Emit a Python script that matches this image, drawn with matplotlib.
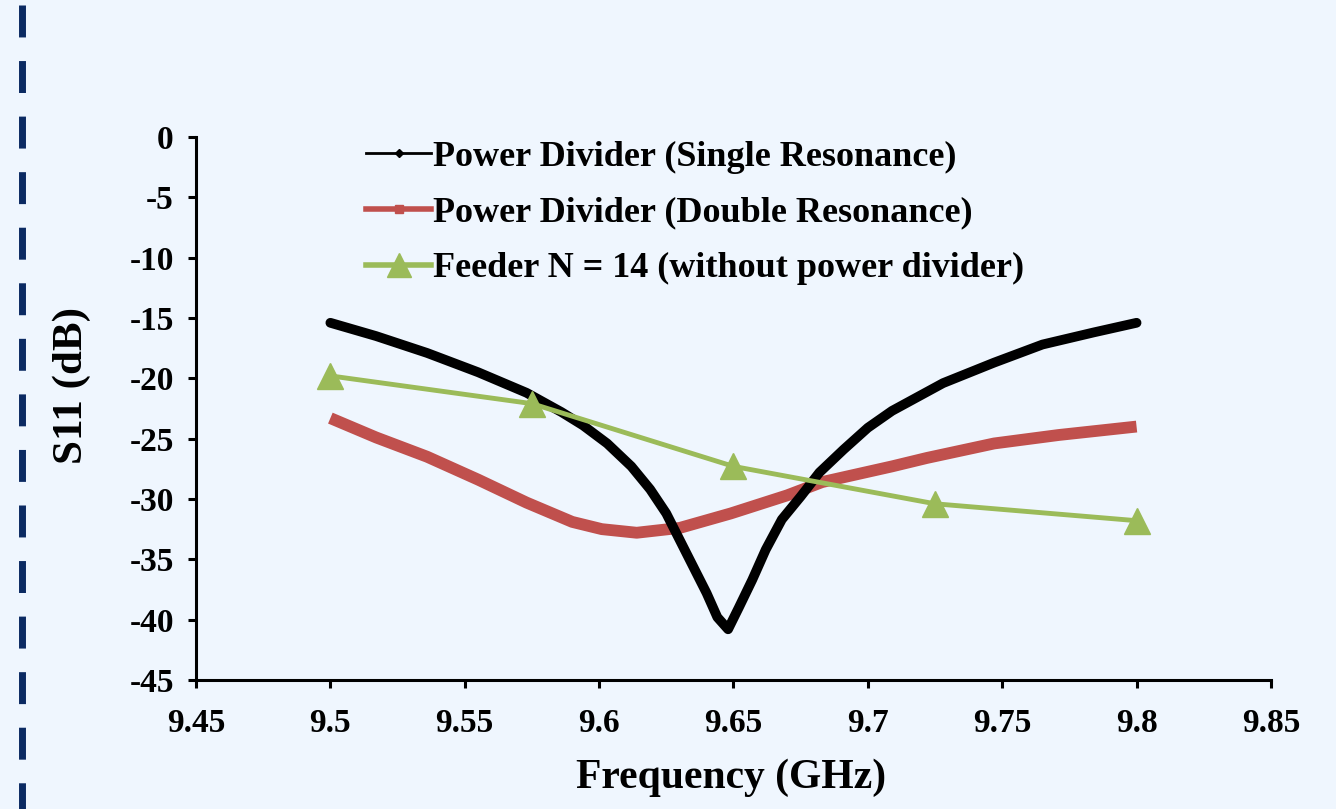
import numpy as np
import matplotlib
matplotlib.use("Agg")
import matplotlib.pyplot as plt
from matplotlib.lines import Line2D

plt.rcParams['font.family'] = ['Liberation Serif', 'DejaVu Serif']
plt.rcParams['font.weight'] = 'bold'

## data
freq_single = [9.500, 9.517, 9.536, 9.555, 9.573, 9.586, 9.594, 9.603, 9.612, 9.619,
               9.625, 9.630, 9.635, 9.640, 9.644, 9.648, 9.652, 9.657, 9.662, 9.668,
               9.675, 9.682, 9.691, 9.700, 9.709, 9.728, 9.747, 9.765, 9.784, 9.800]
s11_single = [-15.4, -16.5, -17.9, -19.5, -21.2, -22.8, -23.9, -25.4, -27.3, -29.2,
              -31.2, -33.4, -35.6, -37.8, -39.8, -40.8, -39.0, -36.7, -34.2, -31.7,
              -29.8, -27.8, -25.9, -24.1, -22.7, -20.4, -18.7, -17.2, -16.2, -15.4]

freq_double = [9.500, 9.517, 9.536, 9.555, 9.573, 9.590, 9.601, 9.614, 9.630, 9.649,
               9.670, 9.683, 9.697, 9.709, 9.722, 9.747, 9.771, 9.800]
s11_double = [-23.3, -24.9, -26.5, -28.4, -30.3, -31.9, -32.5, -32.8, -32.4, -31.2,
              -29.7, -28.6, -27.9, -27.3, -26.6, -25.4, -24.7, -24.0]

freq_feeder = [9.5, 9.575, 9.65, 9.725, 9.8]
s11_feeder = [-19.8, -22.1, -27.3, -30.4, -31.8]

labels = ['Power Divider (Single Resonance)',
          'Power Divider (Double Resonance)',
          'Feeder N = 14 (without power divider)']

xticks = [9.45, 9.5, 9.55, 9.6, 9.65, 9.7, 9.75, 9.8, 9.85]
xtick_labels = ['9.45', '9.5', '9.55', '9.6', '9.65', '9.7', '9.75', '9.8', '9.85']
yticks = [0, -5, -10, -15, -20, -25, -30, -35, -40, -45]

bg = '#eff6fe'
red = '#c0504d'
green = '#9bbb59'

fig = plt.figure(figsize=(13.36, 8.09), dpi=100, facecolor=bg)
ax = fig.add_axes([0.1467, 0.1595, 0.8046, 0.6712])
ax.set_facecolor(bg)

ax.plot(freq_single, s11_single, color='black', lw=7, solid_capstyle='round',
        solid_joinstyle='round', zorder=3)
ax.plot(freq_double, s11_double, color=red, lw=8.5, solid_capstyle='butt',
        solid_joinstyle='round', zorder=2)
ax.plot(freq_feeder, s11_feeder, color=green, lw=3.5, marker='^', ms=19, zorder=4)

ax.set_xlim(9.45, 9.85)
ax.set_ylim(-45, 0)
ax.set_xticks(xticks)
ax.set_xticklabels(xtick_labels)
ax.set_yticks(yticks)
ax.set_yticklabels([str(v) for v in yticks])

for s in ['top', 'right']:
    ax.spines[s].set_visible(False)
for s in ['left', 'bottom']:
    ax.spines[s].set_linewidth(2.2)
ax.tick_params(direction='out', length=6, width=2.2, labelsize=24)
ax.tick_params(axis='x', pad=14)
ax.tick_params(axis='y', pad=10)

ax.set_xlabel('Frequency (GHz)', fontsize=30, fontweight='bold')
ax.xaxis.set_label_coords(0.4977, -0.145)
ax.set_ylabel('S11 (dB)', fontsize=31, fontweight='bold')
ax.yaxis.set_label_coords(-0.098, 0.543)

# legend with thin handles like the original
handles = [Line2D([], [], color='black', lw=2, marker='D', ms=4),
           Line2D([], [], color=red, lw=4, marker='s', ms=6),
           Line2D([], [], color=green, lw=4, marker='^', ms=17)]
ax.legend(handles, labels, loc='upper left', bbox_to_anchor=(0.155, 1.0),
          frameon=False, fontsize=26, handlelength=1.8, handletextpad=0.05,
          labelspacing=0.62, borderpad=0, borderaxespad=0.1)

# dashed border at the left edge
fig.add_artist(Line2D([0.0168, 0.0168], [0.994, 0.0], transform=fig.transFigure,
                      color='#0b2a62', lw=5, linestyle=(0, (4.6, 3.4)),
                      solid_capstyle='butt', dash_capstyle='butt'))

fig.savefig('out.png', dpi=100, facecolor=bg)
